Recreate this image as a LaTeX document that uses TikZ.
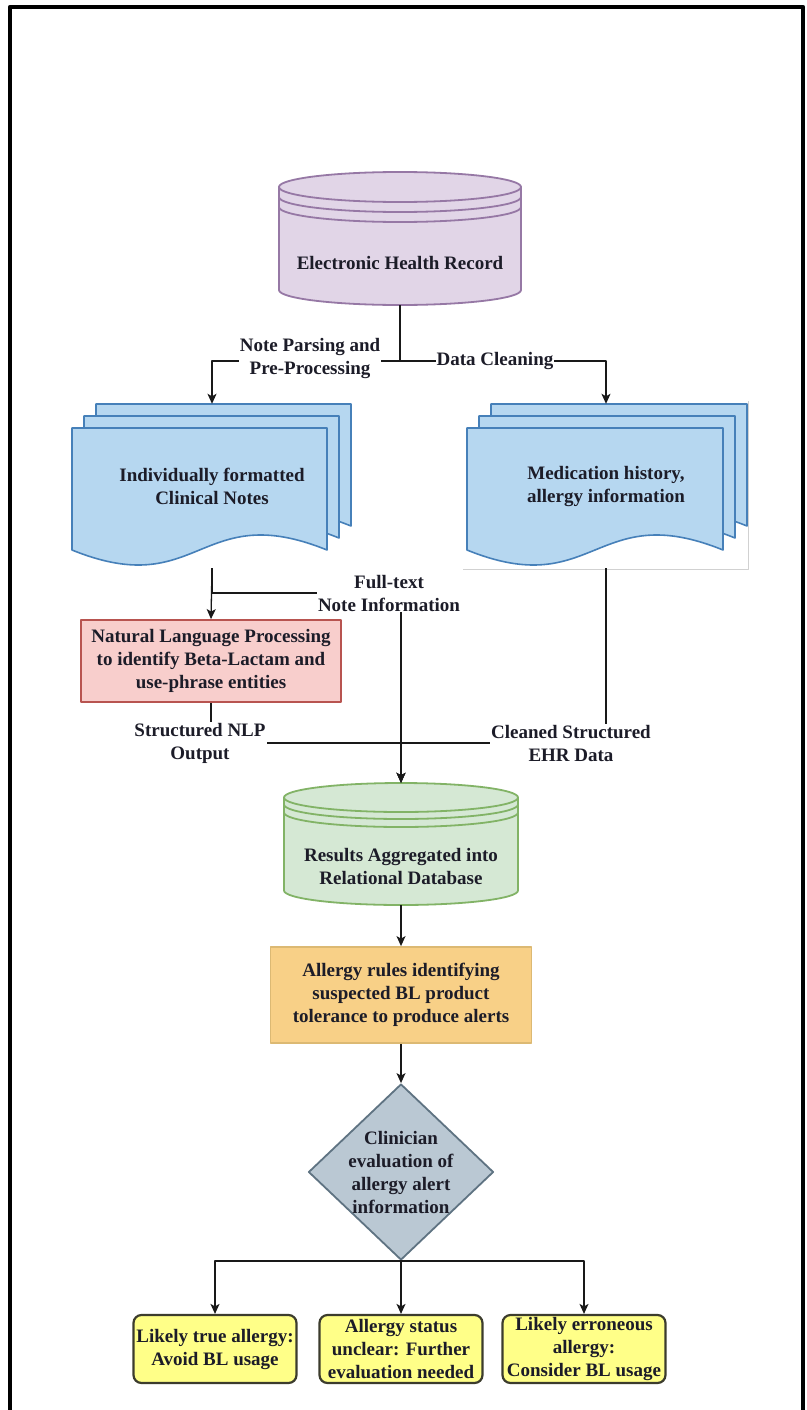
\documentclass[tikz,border=0pt]{standalone}
\usepackage{fontspec}
\setmainfont{Liberation Serif}
\usetikzlibrary{shapes.geometric,arrows.meta}
\definecolor{txtcol}{RGB}{28,28,40}
\definecolor{ehrfill}{HTML}{E1D5E7}
\definecolor{ehrline}{RGB}{150,120,165}
\definecolor{docfill}{RGB}{182,215,240}
\definecolor{docline}{RGB}{70,128,185}
\definecolor{nlpfill}{HTML}{F8CECC}
\definecolor{nlpline}{HTML}{B85450}
\definecolor{dbfill}{HTML}{D5E8D4}
\definecolor{dbline}{HTML}{82B366}
\definecolor{rulefill}{RGB}{248,208,135}
\definecolor{ruleline}{RGB}{220,185,115}
\definecolor{evalfill}{HTML}{BAC8D3}
\definecolor{evalline}{RGB}{95,115,130}
\definecolor{outfill}{RGB}{255,255,136}
\definecolor{outline}{RGB}{60,60,45}
\begin{document}
\begin{tikzpicture}[x=1pt,y=-1pt,>={Stealth[length=10pt,width=9pt,inset=2.5pt]},
    line join=round,font=\bfseries\fontsize{19}{23}\selectfont,text=txtcol,
    conn/.style={draw=black!90,line width=1.3pt},
    lbl/.style={fill=white,inner sep=1pt,align=center},
    area/.style={inner sep=0pt,align=center},
    nlpbox/.style={draw=nlpline,fill=nlpfill,line width=1.8pt,minimum width=260,minimum height=82,inner sep=0pt,align=center},
    rulebox/.style={draw=ruleline,fill=rulefill,line width=1.8pt,minimum width=261,minimum height=96,inner sep=0pt,align=center},
    outbox/.style={draw=outline,fill=outfill,line width=2.2pt,rounded corners=8pt,minimum width=163,minimum height=68,inner sep=0pt,align=center}]
\useasboundingbox (0,0) rectangle (806,1410);
\fill[white] (0,0) rectangle (806,1410);
\draw[line width=4.5pt] (10,1420) -- (10,7) -- (803,7) -- (803,1420);

% electronic health record
\filldraw[fill=ehrfill,draw=ehrline,line width=1.8pt] (279,187) -- (279,290) arc[start angle=180,end angle=0,x radius=121,y radius=15] -- (521,187) -- cycle;
\filldraw[fill=ehrfill,draw=ehrline,line width=1.8pt] (400,187) ellipse[x radius=121,y radius=15];
\draw[ehrline,line width=1.8pt] (279,197) arc[start angle=180,end angle=0,x radius=121,y radius=15];
\draw[ehrline,line width=1.8pt] (279,207) arc[start angle=180,end angle=0,x radius=121,y radius=15];
\node[area,minimum width=242,minimum height=133,label={[yshift=-24.5pt]center:Electronic Health Record}] (ehr) at (400,238.5) {};

% document stacks
\foreach \d in {24,12,0}{
  \filldraw[fill=docfill,draw=docline,line width=1.6pt] (72+\d,428-\d) -- (327+\d,428-\d) -- (327+\d,550-\d)
    .. controls (199+\d,498-\d) and (200+\d,602-\d) .. (72+\d,550-\d) -- cycle;
  \filldraw[fill=docfill,draw=docline,line width=1.6pt] (467+\d,428-\d) -- (723+\d,428-\d) -- (723+\d,550-\d)
    .. controls (595+\d,498-\d) and (595+\d,602-\d) .. (467+\d,550-\d) -- cycle;
}
\draw[black!18,line width=1pt] (463,569) -- (748,569) -- (748,401);
\node[area,minimum width=280,minimum height=164] (notes) at (212,486) {Individually formatted\\Clinical Notes};
\node[area,minimum width=282,minimum height=164] (meds) at (606,486) {Medication history,\\allergy information};

% natural language processing
\node[nlpbox] (nlp) at (211,661) {Natural Language Processing\\to identify Beta-Lactam and\\use-phrase entities};

% relational database
\filldraw[fill=dbfill,draw=dbline,line width=1.8pt] (284,797.5) -- (284,890.5) arc[start angle=180,end angle=0,x radius=117,y radius=14.5] -- (518,797.5) -- cycle;
\filldraw[fill=dbfill,draw=dbline,line width=1.8pt] (401,797.5) ellipse[x radius=117,y radius=14.5];
\draw[dbline,line width=1.8pt] (284,804.5) arc[start angle=180,end angle=0,x radius=117,y radius=14.5];
\draw[dbline,line width=1.8pt] (284,812.5) arc[start angle=180,end angle=0,x radius=117,y radius=14.5];
\node[area,minimum width=234,minimum height=122,label={[yshift=-22pt,align=center]center:{Results Aggregated into\\Relational Database}}] (rdb) at (401,844) {};

% rules and evaluation
\node[rulebox] (rules) at (401,995) {Allergy rules identifying\\suspected BL product\\tolerance to produce alerts};
\node[diamond,draw=evalline,fill=evalfill,line width=1.8pt,minimum width=185,minimum height=176,inner sep=0pt,
  label={[align=center]center:{Clinician\\evaluation of\\allergy alert\\information}}] (eval) at (401,1172) {};

\node[outbox] (avoid) at (215,1349) {Likely true allergy:\\Avoid BL usage};
\node[outbox] (unclear) at (401,1349) {Allergy status\\unclear: Further\\evaluation needed};
\node[outbox] (consider) at (584,1349) {Likely erroneous\\allergy:\\Consider BL usage};

% connectors
\coordinate (split) at (400,361);
\coordinate (ftturn) at (401,593);
\coordinate (merge) at (401,743);
\draw[conn] (ehr.south) -- (split);
\draw[conn,->] (split) -| (notes.north);
\draw[conn,->] (split) -| (meds.north);
\draw[conn,->] (notes.south) -- (nlp.north);
\draw[conn,->] (notes.south) |- (ftturn) -- (rdb.north);
\draw[conn,->] (nlp.south) |- (merge) -- (rdb.north);
\draw[conn,->] (meds.south) |- (merge) -- (rdb.north);
\draw[conn,->] (rdb.south) -- (rules.north);
\draw[conn,->] (rules.south) -- (eval.north);
\draw[conn,->] (eval.south) -| (avoid.north);
\draw[conn,->] (eval.south) -- (unclear.north);
\draw[conn,->] (eval.south) -| (consider.north);

% edge labels
\node[lbl] (parse) at (310,359) {Note Parsing and\\Pre-Processing};
\node[lbl] (clean) at (495,361) {Data Cleaning};
\node[lbl] (fulltext) at (389,593) {Full-text\\Note Information};
\node[lbl] (nlpout) at (200,743) {Structured NLP\\Output};
\node[lbl] (ehrout) at (571,743) {Cleaned Structured\\EHR Data};
\end{tikzpicture}
\end{document}
